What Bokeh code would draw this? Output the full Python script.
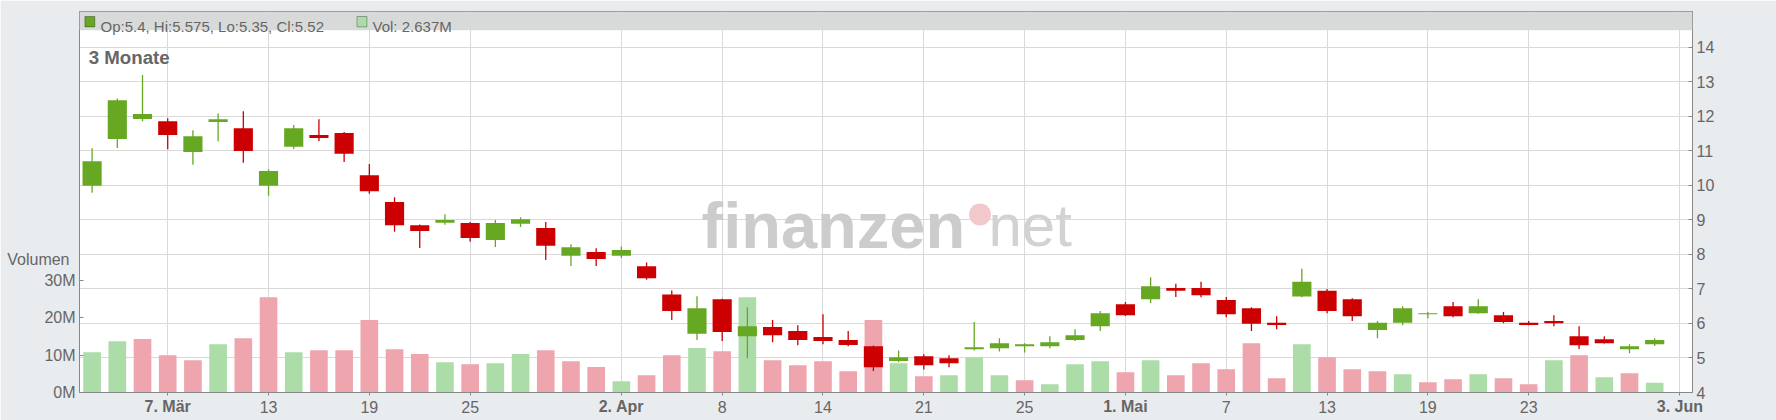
from bokeh.plotting import figure
from bokeh.models import (Range1d, LinearAxis, FixedTicker, PrintfTickFormatter,
                          Label, BoxAnnotation, ColumnDataSource)
from bokeh.embed import file_html
from bokeh.resources import INLINE

# ---------------- data ----------------
opens = [9.99, 11.35, 11.93, 11.86, 10.97, 11.84, 11.66, 9.99, 11.12, 11.46,
         11.52, 10.30, 9.52, 8.85, 8.92, 8.91, 8.42, 8.89, 8.77, 7.96,
         8.07, 7.96, 7.66, 6.84, 5.70, 6.70, 5.63, 5.90, 5.78, 5.61,
         5.52, 5.34, 4.91, 5.05, 4.99, 5.25, 5.28, 5.34, 5.34, 5.52,
         5.92, 6.56, 6.70, 7.03, 7.03, 6.68, 6.44, 6.02, 6.78, 6.95,
         6.70, 5.81, 6.02, 6.27, 6.50, 6.30, 6.24, 6.02, 6.07, 5.63,
         5.54, 5.25, 5.40]
highs = [11.08, 12.52, 13.20, 11.95, 11.60, 12.09, 12.15, 10.47, 11.75, 11.92,
         11.55, 10.62, 9.66, 8.87, 9.17, 8.94, 9.00, 9.08, 8.94, 8.30,
         8.18, 8.23, 7.77, 6.96, 6.79, 6.72, 6.47, 6.10, 5.95, 6.27,
         5.78, 5.36, 5.22, 5.11, 5.08, 6.04, 5.57, 5.43, 5.63, 5.83,
         6.36, 6.62, 7.34, 7.15, 7.21, 6.77, 6.47, 6.21, 7.59, 7.00,
         6.73, 6.07, 6.50, 6.33, 6.62, 6.70, 6.33, 6.07, 6.24, 5.92,
         5.63, 5.40, 5.575]
lows = [9.79, 11.09, 11.86, 11.05, 10.60, 11.28, 10.66, 9.70, 11.06, 11.29,
        10.68, 9.76, 8.66, 8.19, 8.86, 8.37, 8.22, 8.80, 7.84, 7.67,
        7.67, 7.90, 7.27, 6.10, 5.52, 5.49, 4.99, 5.46, 5.37, 5.40,
        5.34, 4.62, 4.88, 4.67, 4.73, 5.22, 5.19, 5.16, 5.28, 5.49,
        5.78, 6.22, 6.59, 6.77, 6.76, 6.18, 5.78, 5.83, 6.76, 6.30,
        6.07, 5.57, 5.95, 6.15, 6.18, 6.28, 6.01, 5.95, 5.92, 5.26,
        5.42, 5.14, 5.35]
closes = [10.70, 12.47, 12.07, 11.46, 11.43, 11.92, 11.00, 10.42, 11.66, 11.38,
          10.92, 9.83, 8.85, 8.68, 9.00, 8.48, 8.91, 9.02, 8.25, 8.21,
          7.87, 8.13, 7.31, 6.36, 6.44, 5.75, 5.92, 5.66, 5.52, 5.49,
          5.38, 4.73, 5.02, 4.79, 4.85, 5.31, 5.43, 5.40, 5.46, 5.66,
          6.30, 6.24, 7.08, 6.95, 6.82, 6.27, 5.99, 5.96, 7.21, 6.36,
          6.21, 6.02, 6.44, 6.30, 6.21, 6.50, 6.04, 5.96, 6.01, 5.37,
          5.43, 5.34, 5.52]
volumes_m = [10.8, 13.7, 14.3, 10.0, 8.65, 12.9, 14.5, 25.5, 10.8, 11.3,
             11.3, 19.4, 11.6, 10.3, 8.1, 7.6, 7.85, 10.3, 11.3, 8.4,
             6.8, 3.03, 4.63, 10.0, 11.9, 11.06, 25.5, 8.65, 7.3, 8.4,
             5.7, 19.4, 7.85, 4.37, 4.63, 9.46, 4.63, 3.3, 2.2, 7.6,
             8.4, 5.44, 8.65, 4.63, 7.85, 6.24, 13.2, 3.83, 12.9, 9.46,
             6.24, 5.7, 4.9, 2.76, 3.56, 4.9, 3.83, 2.2, 8.65, 10.0,
             4.1, 5.17, 2.637]

tick_idx = [3, 7, 11, 15, 21, 25, 29, 33, 37, 41, 45, 49, 53, 57, 63]
tick_labels = ["7. Mär", "13", "19", "25", "2. Apr", "8", "14", "21", "25",
               "1. Mai", "7", "13", "19", "23", "3. Jun"]
bold_labels = ["7. Mär", "2. Apr", "1. Mai", "3. Jun"]
price_ticks = [4, 5, 6, 7, 8, 9, 10, 11, 12, 13, 14]
vol_ticks = [0, 10, 20, 30]
vol_title = "Volumen"
vol_title_at = 35.7          # volume-axis position of the "Volumen" caption
header_ohlc = "Op:5.4, Hi:5.575, Lo:5.35, Cl:5.52"
header_vol = "Vol: 2.637M"
period_label = "3 Monate"

# ---------------- styling ----------------
FONT = "Liberation Sans"
TXT = "#666666"
AX = "#888888"
UP, DOWN = "#67a822", "#cc0000"
VUP, VDOWN = "#acdda9", "#eea5ad"
GRID = "#d9d9d9"

n = len(closes)
idx = list(range(n))
c_col = [UP if closes[i] > opens[i] else DOWN for i in idx]
v_col = [(VUP if closes[i] >= (closes[i - 1] if i > 0 else opens[i]) else VDOWN) for i in idx]

src = ColumnDataSource(dict(
    x=idx, o=opens, h=highs, l=lows, c=closes,
    top=[max(a, b) for a, b in zip(opens, closes)],
    bot=[min(a, b) for a, b in zip(opens, closes)],
    vol=volumes_m, ccol=c_col, vcol=v_col))

p = figure(width=1776, height=420, x_range=Range1d(-0.5, 63.5),
           y_range=Range1d(4, 15.043), y_axis_location="right",
           output_backend="svg", toolbar_location=None,
           min_border_left=79, min_border_right=84, min_border_top=11,
           min_border_bottom=28, background_fill_color="white",
           border_fill_color="#e9ecef", outline_line_color=AX)
p.extra_y_ranges = {"vol": Range1d(0, 102.06)}


def style_axis(ax, size="16px", bold=False):
    ax.major_label_text_font = FONT
    ax.major_label_text_font_size = size
    ax.major_label_text_color = TXT
    if bold:
        ax.major_label_text_font_style = "bold"
    ax.minor_tick_line_color = None
    ax.axis_line_color = AX
    ax.major_tick_line_color = AX


# right (price) axis
ra = p.yaxis[0]
ra.ticker = FixedTicker(ticks=price_ticks)
ra.major_tick_in = 4
ra.major_tick_out = 0
ra.major_label_standoff = 4
style_axis(ra)

# left (volume) axis
la = LinearAxis(y_range_name="vol", ticker=FixedTicker(ticks=vol_ticks),
                formatter=PrintfTickFormatter(format="%dM"))
la.major_tick_in = 4
la.major_tick_out = 0
la.major_label_standoff = 4
style_axis(la)
p.add_layout(la, "left")

# "Volumen" caption: a label-only axis stacked left of the volume axis,
# pulled back towards the frame with a negative standoff
va = LinearAxis(y_range_name="vol", ticker=FixedTicker(ticks=[vol_title_at]),
                major_label_overrides={vol_title_at: vol_title})
style_axis(va)
va.axis_line_color = None
va.major_tick_line_color = None
va.major_tick_in = 0
va.major_tick_out = 0
va.major_label_standoff = -28
p.add_layout(va, "left")

# bottom axis: regular day labels (short outward ticks)
xa = p.xaxis[0]
xa.ticker = FixedTicker(ticks=tick_idx)
xa.major_label_overrides = {t: ("" if lab in bold_labels else lab)
                            for t, lab in zip(tick_idx, tick_labels)}
xa.major_tick_out = 3
xa.major_tick_in = 0
xa.major_label_standoff = 5
style_axis(xa)

# bottom axis: bold month labels, stacked below and pulled up onto the same line
month_ticks = [t for t, lab in zip(tick_idx, tick_labels) if lab in bold_labels]
xb = LinearAxis(ticker=FixedTicker(ticks=month_ticks),
                major_label_overrides={t: lab for t, lab in zip(tick_idx, tick_labels)
                                       if lab in bold_labels})
xb.major_tick_out = 0
xb.major_tick_in = 0
xb.major_label_standoff = -18
style_axis(xb, bold=True)
xb.major_tick_line_color = None
xb.axis_line_color = None
p.add_layout(xb, "below")

p.xgrid.ticker = FixedTicker(ticks=tick_idx)
p.ygrid.ticker = FixedTicker(ticks=price_ticks)
p.xgrid.grid_line_color = GRID
p.ygrid.grid_line_color = GRID

# watermark
p.add_layout(Label(x=622, y=167, x_units="screen", y_units="screen",
                   text="finanzen", text_font=FONT, text_font_size="65px",
                   text_font_style="bold", text_color="#cccccc",
                   text_baseline="alphabetic", level="underlay"))
p.add_layout(BoxAnnotation(left=889.5, right=911.5, bottom=167, top=189,
                           left_units="screen", right_units="screen",
                           bottom_units="screen", top_units="screen",
                           border_radius=11, fill_color="#f1c9cd", fill_alpha=1,
                           line_color=None, level="underlay"))
p.add_layout(Label(x=909, y=167, x_units="screen", y_units="screen",
                   text="net", text_font=FONT, text_font_size="60px",
                   text_color="#d2d2d2", text_baseline="alphabetic",
                   level="underlay"))

# volume bars
p.vbar(x="x", top="vol", bottom=0, width=0.7, source=src, y_range_name="vol",
       fill_color="vcol", line_color=None)
# candles
p.segment(x0="x", y0="l", x1="x", y1="h", source=src, line_color="ccol", line_width=1.3)
p.vbar(x="x", top="top", bottom="bot", width=0.76, source=src,
       fill_color="ccol", line_color=None)

# header band
p.add_layout(BoxAnnotation(bottom=14.5, fill_color="#d8dad9", fill_alpha=1,
                           line_color=None))
p.add_layout(BoxAnnotation(left=5.4, right=15.3, bottom=365.6, top=376,
                           left_units="screen", right_units="screen",
                           bottom_units="screen", top_units="screen",
                           fill_color=UP, fill_alpha=1, line_color="black",
                           line_width=1))
p.add_layout(Label(x=21, y=365.8, x_units="screen", y_units="screen",
                   text=header_ohlc, text_font=FONT, text_font_size="15px",
                   text_color=TXT, text_baseline="alphabetic"))
p.add_layout(BoxAnnotation(left=277.5, right=287.4, bottom=365.6, top=376,
                           left_units="screen", right_units="screen",
                           bottom_units="screen", top_units="screen",
                           fill_color=VUP, fill_alpha=1, line_color="black",
                           line_width=1))
p.add_layout(Label(x=293, y=365.8, x_units="screen", y_units="screen",
                   text=header_vol, text_font=FONT, text_font_size="15px",
                   text_color=TXT, text_baseline="alphabetic"))

# period label
p.add_layout(Label(x=9.2, y=335, x_units="screen", y_units="screen",
                   text=period_label, text_font=FONT, text_font_size="18.7px",
                   text_font_style="bold", text_color=TXT,
                   text_baseline="alphabetic"))

open("out.html", "w").write(file_html(p, INLINE))
